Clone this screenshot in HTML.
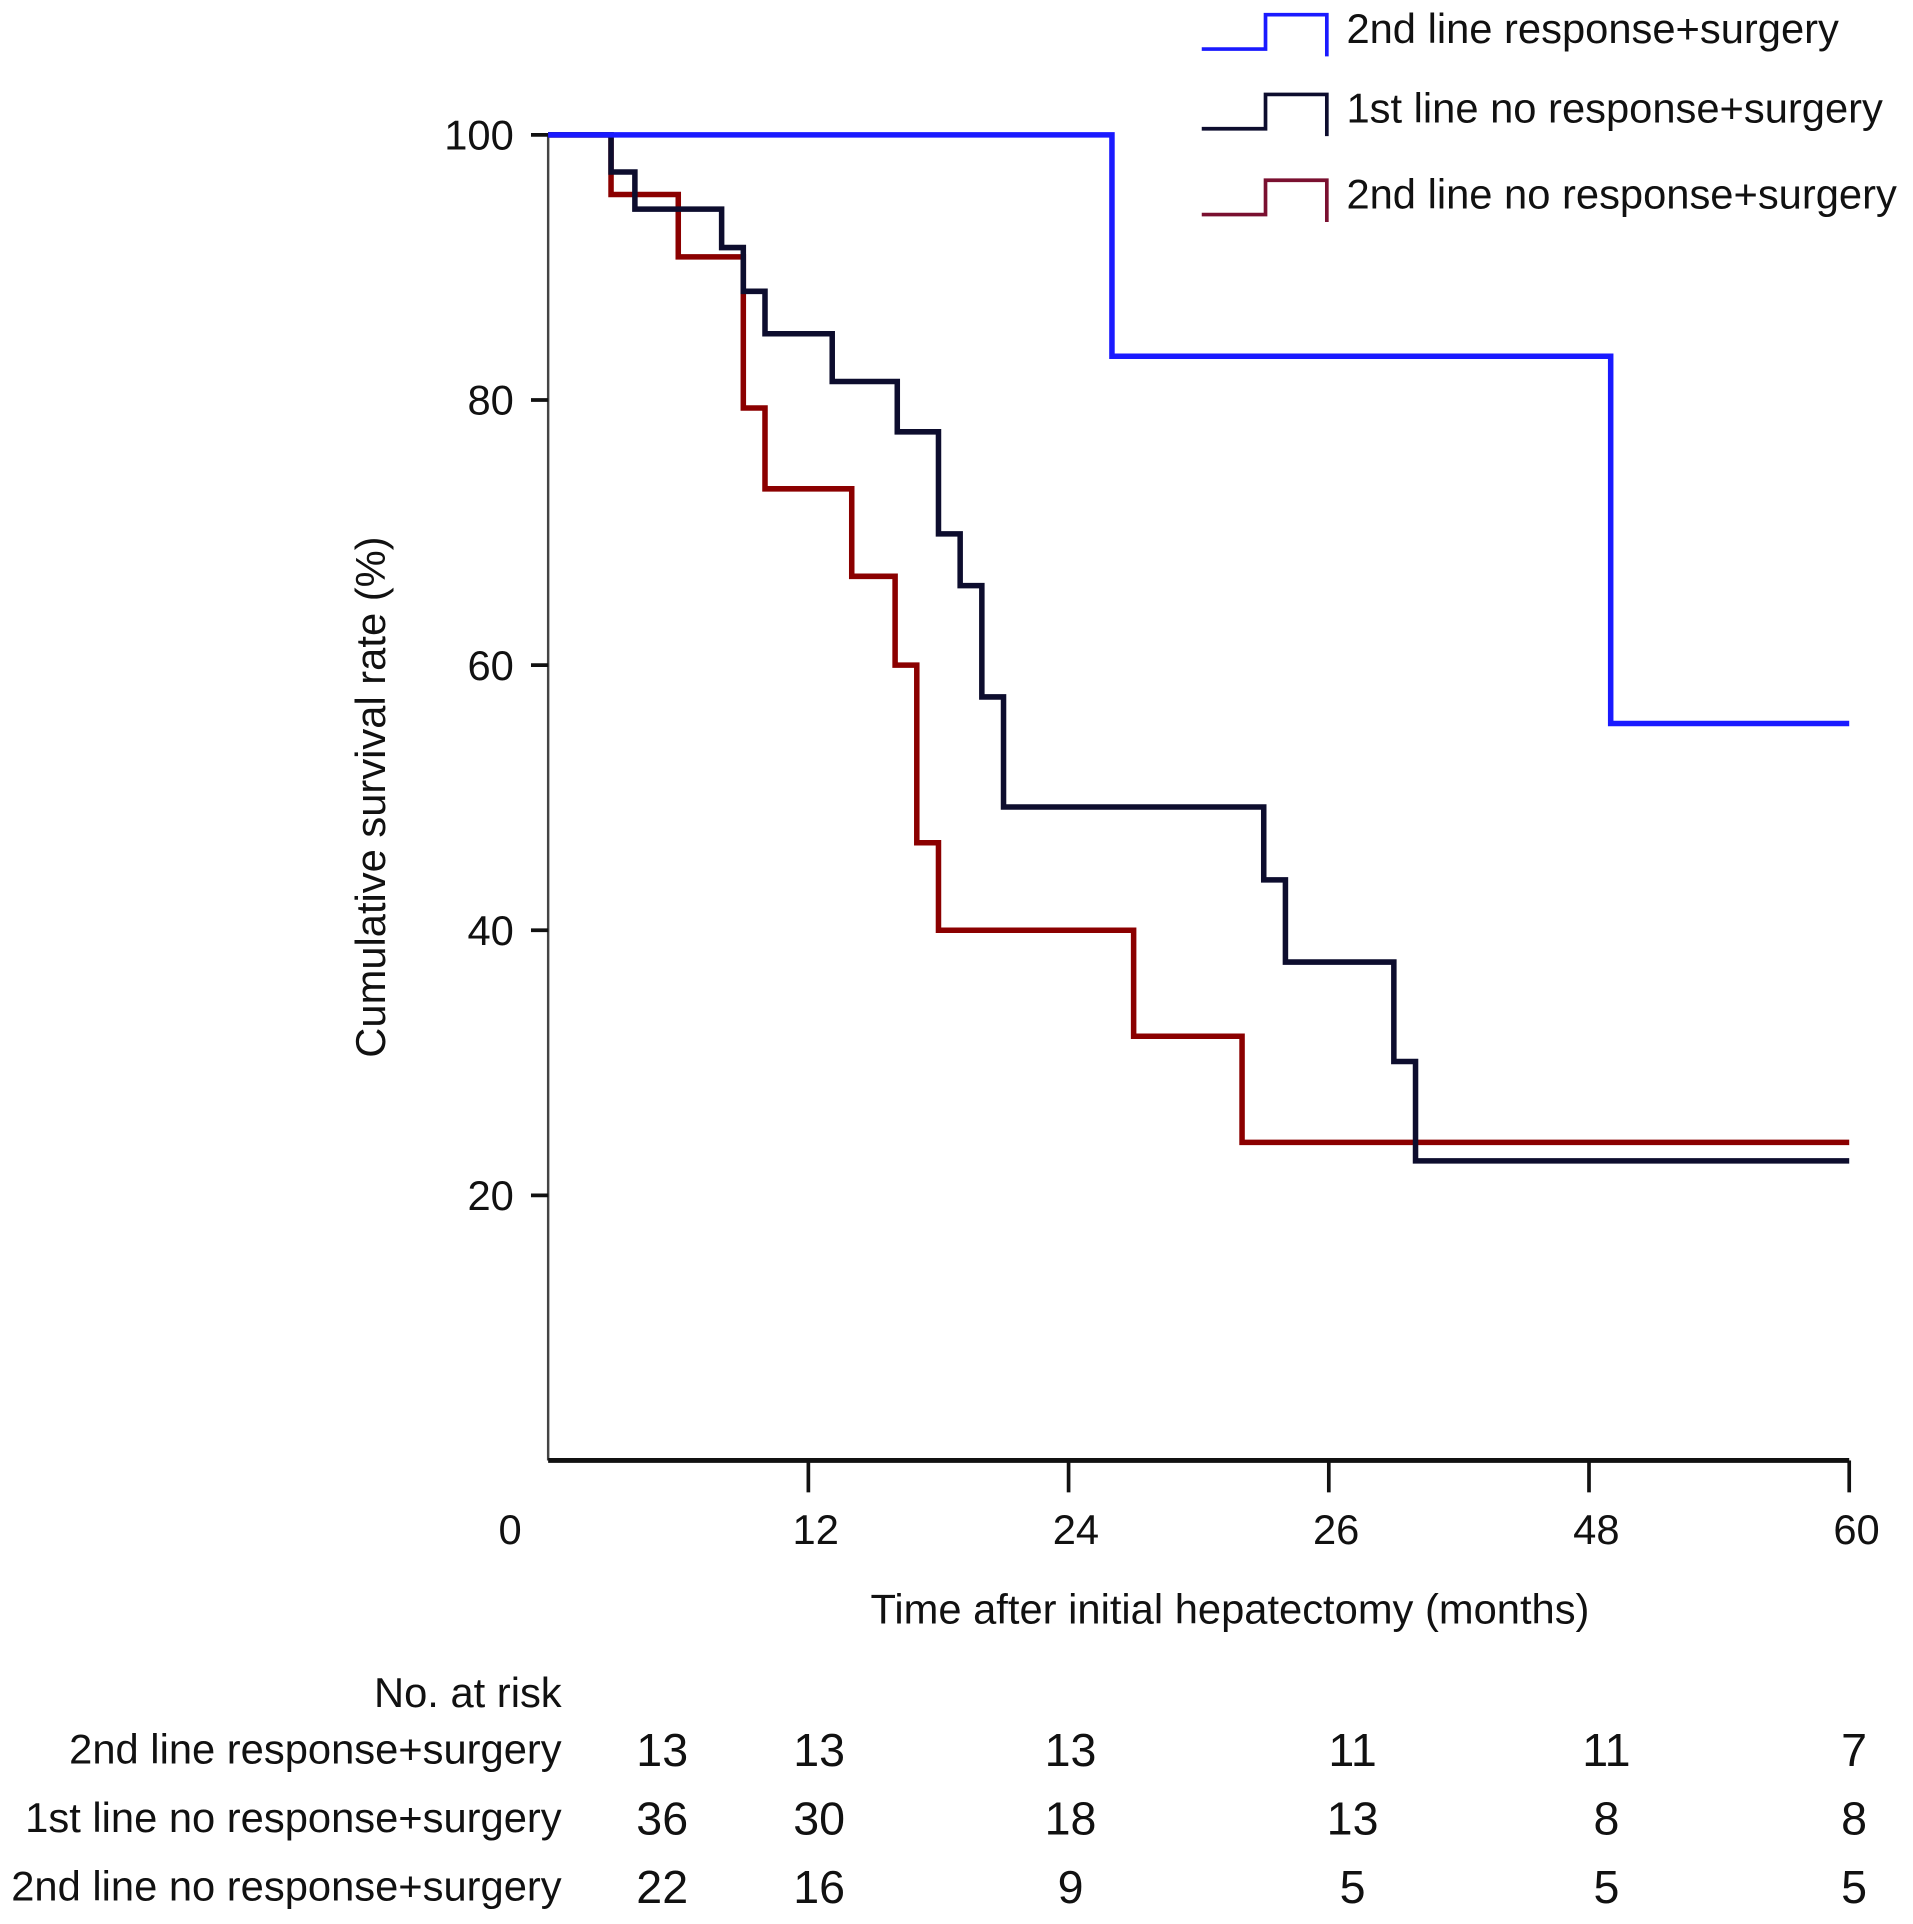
<!DOCTYPE html>
<html><head><meta charset="utf-8"><style>
html,body{margin:0;padding:0;background:#fff;}
svg{display:block;font-family:"Liberation Sans",Arial,sans-serif;}
</style></head><body>
<svg id="chart" width="1913" height="1924" viewBox="0 0 1560 1569" xmlns="http://www.w3.org/2000/svg">
<g id="axes"></g>
<g id="curves"></g>
<g id="legend"></g>
<g id="risk"></g>
</svg>
<script>
const xTicks = [0, 12, 24, 36, 48, 60];
const xTickLabels = ["0", "12", "24", "26", "48", "60"];
const yTicks = [20, 40, 60, 80, 100];
const seriesNames = ["2nd line response+surgery", "1st line no response+surgery", "2nd line no response+surgery"];
const seriesColors = ["#1a1aff", "#0d0d2e", "#8b0000"];
const blueTimes = [0, 26.0, 49.0, 60];
const blueSurv = [100, 83.3, 55.6, 55.6];
const blackTimes = [0, 2.9, 4.0, 8.0, 9.0, 10.0, 13.1, 16.1, 18.0, 19.0, 20.0, 21.0, 33.0, 34.0, 39.0, 40.0, 60];
const blackSurv = [100, 97.2, 94.4, 91.5, 88.2, 85.0, 81.4, 77.6, 69.9, 66.0, 57.6, 49.3, 43.8, 37.6, 30.1, 22.6, 22.6];
const redTimes = [0, 2.9, 6.0, 9.0, 10.0, 14.0, 16.0, 17.0, 18.0, 27.0, 32.0, 60];
const redSurv = [100, 95.5, 90.8, 79.4, 73.3, 66.7, 60.0, 46.6, 40.0, 32.0, 24.0, 24.0];
const riskTimes = [0, 12, 24, 36, 48, 60];
const riskBlue = [13, 13, 13, 11, 11, 7];
const riskBlack = [36, 30, 18, 13, 8, 8];
const riskRed = [22, 16, 9, 5, 5, 5];

const NS = "http://www.w3.org/2000/svg";
const X0 = 447, X1 = 1508, Y0 = 1191, Y100 = 110;
const FS = 34;
function sx(t){ return X0 + (X1 - X0) * t / 60; }
function sy(v){ return Y0 - (Y0 - Y100) * v / 100; }
function mk(tag, attrs, parent){ const e = document.createElementNS(NS, tag); for (const k in attrs) e.setAttribute(k, attrs[k]); parent.appendChild(e); return e; }

const axes = document.getElementById('axes');
let yl = mk('line', {x1:X0, y1:Y100, x2:X0, y2:Y0, stroke:'#444', 'stroke-width':2}, axes);


let xl = mk('line', {x1:X0, y1:Y0, x2:X1, y2:Y0, stroke:'#111', 'stroke-width':4}, axes);


yTicks.forEach(v => {
  const t = mk('line', {x1:X0-14, y1:sy(v), x2:X0, y2:sy(v), stroke:'#111', 'stroke-width':3}, axes);
  
  
  const l = mk('text', {x:X0-28, y:sy(v)+12, 'text-anchor':'end', 'font-size':FS, fill:'#111'}, axes);
  l.textContent = String(v);
  
  
});
xTicks.forEach((t, i) => {
  if (i > 0) {
    const k = mk('line', {x1:sx(t), y1:Y0, x2:sx(t), y2:Y0+26, stroke:'#111', 'stroke-width':3}, axes);
    
    
  }
  const lx = i === 0 ? 416 : sx(t) + 6;
  const l = mk('text', {x:lx, y:1259, 'text-anchor':'middle', 'font-size':FS, fill:'#111'}, axes);
  l.textContent = xTickLabels[i];
  
  
});
let yt = mk('text', {x:0, y:0, 'text-anchor':'middle', 'font-size':FS, fill:'#111', transform:'translate(314,650) rotate(-90)'}, axes);
yt.textContent = 'Cumulative survival rate (%)';


let xt = mk('text', {x:1003, y:1324, 'text-anchor':'middle', 'font-size':FS, fill:'#111'}, axes);
xt.textContent = 'Time after initial hepatectomy (months)';



const curves = document.getElementById('curves');
function stepPath(times, surv){
  let d = 'M' + sx(times[0]) + ',' + sy(surv[0]);
  for (let i = 1; i < times.length; i++){
    d += ' H' + sx(times[i]) + ' V' + sy(surv[i]);
  }
  return d;
}
const allT = [blueTimes, blackTimes, redTimes], allS = [blueSurv, blackSurv, redSurv];
const curveNames = ['curve-2nd-line-response', 'curve-1st-line-no-response', 'curve-2nd-line-no-response'];
[2,1,0].forEach(i => {
  const p = mk('path', {d:stepPath(allT[i], allS[i]), fill:'none', stroke:seriesColors[i], 'stroke-width':4.5, 'stroke-linejoin':'miter'}, curves);
  
  
});

const legend = document.getElementById('legend');
const legY = [40, 105, 175];
seriesNames.forEach((n, i) => {
  const y = legY[i];
  const p = mk('path', {d:`M980,${y} H1032 V${y-28} H1082 V${y+6}`, fill:'none', stroke:i===2?'#7a1030':seriesColors[i], 'stroke-width':3}, legend);
  
  
  const t = mk('text', {x:1098, y:y-5, 'font-size':FS, fill:'#111'}, legend);
  t.textContent = n;
  
  
});

const risk = document.getElementById('risk');
let rh = mk('text', {x:458, y:1392, 'text-anchor':'end', 'font-size':FS, fill:'#111'}, risk);
rh.textContent = 'No. at risk';


const riskRows = [riskBlue, riskBlack, riskRed];
const rowY = [1438, 1494, 1550];
const numX = [540, 668, 873, 1103, 1310, 1512];
riskRows.forEach((row, r) => {
  const lab = mk('text', {x:458, y:rowY[r], 'text-anchor':'end', 'font-size':FS, fill:'#111'}, risk);
  lab.textContent = seriesNames[r];
  
  
  row.forEach((v, j) => {
    const t = mk('text', {x:numX[j], y:rowY[r]+2, 'text-anchor':'middle', 'font-size':38, fill:'#111'}, risk);
    t.textContent = String(v);
    
    
  });
});
</script>
</body></html>
